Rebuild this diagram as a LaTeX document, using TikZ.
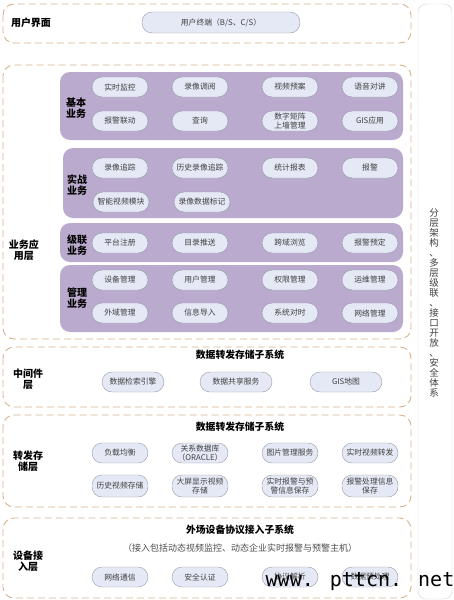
\documentclass[tikz,border=0pt]{standalone}
\usepackage{fontspec}
\setmainfont{Noto Sans CJK SC}
\newfontfamily\markfont{DejaVu Sans Mono}
\definecolor{dashc}{RGB}{214,178,138}
\definecolor{grpc}{RGB}{186,170,206}
\definecolor{pillf}{RGB}{229,233,245}
\definecolor{pillb}{RGB}{150,154,170}
\begin{document}
\begin{tikzpicture}[x=1pt,y=-1pt,
  layer/.style={draw=dashc,line width=0.9pt,dash pattern=on 7pt off 4pt,rounded corners=11pt},
  group/.style={fill=grpc,rounded corners=10pt},
  pill/.style={draw=pillb,fill=pillf,rounded corners=10pt,minimum width=56pt,minimum height=20pt,
    inner sep=1pt,align=center,text=black!75,font=\fontsize{7.8}{8.4}\selectfont},
  lbl/.style={align=center,font=\bfseries\fontsize{10}{11}\selectfont},
  ttl/.style={font=\bfseries\fontsize{9.8}{10.5}\selectfont}]
\useasboundingbox (0,0) rectangle (453,600);

% right side column
\draw[gray!35,rounded corners=8pt] (418,4) rectangle (452,599);
\node[align=center,text=black!75,font=\fontsize{9.5}{10}\selectfont] (side) at (434,303)
  {分\\层\\架\\构\\、\\多\\层\\级\\联\\、\\接\\口\\开\\放\\、\\安\\全\\体\\系};

% user layer
\draw[layer] (3,4) rectangle (411,43);
\node[lbl] (ui) at (31,23) {用户界面};
\node[pill,minimum width=158pt,minimum height=21pt] (term) at (221,22.5) {用户终端（B/S、C/S）};

% business layer
\draw[layer] (3,65) rectangle (411,339);
\node[lbl] (biz) at (24,250) {业务应\\用层};
\fill[group] (60,72) rectangle (403,140);
\fill[group] (63,148) rectangle (403,218);
\fill[group] (60,223) rectangle (403,262);
\fill[group] (60,265) rectangle (403,332);
\node[lbl] (jb) at (76,108) {基本\\业务};
\node[lbl] (sz) at (77,185) {实战\\业务};
\node[lbl] (jl) at (77,245) {级联\\业务};
\node[lbl] (gl) at (77,298) {管理\\业务};
\foreach \t/\x [count=\i] in {实时监控/120,录像调阅/200,视频预案/290,语音对讲/370}
  \node[pill] (jba\i) at (\x,87) {\t};
\foreach \t/\x [count=\i] in {报警联动/120,查询/200,{数字矩阵\\上墙管理}/290,GIS应用/370}
  \node[pill] (jbb\i) at (\x,121) {\t};
\foreach \t/\x [count=\i] in {录像追踪/120,历史录像追踪/200,统计报表/290,报警/370}
  \node[pill] (sza\i) at (\x,168) {\t};
\foreach \t/\x [count=\i] in {智能视频模块/121,录像数据标记/202}
  \node[pill] (szb\i) at (\x,202) {\t};
\foreach \t/\x [count=\i] in {平台注册/120,目录推送/200,跨域浏览/290,报警预定/370}
  \node[pill] (jl\i) at (\x,243) {\t};
\foreach \t/\x [count=\i] in {设备管理/120,用户管理/200,权限管理/290,运维管理/370}
  \node[pill] (gla\i) at (\x,280) {\t};
\foreach \t/\x [count=\i] in {外域管理/120,信息导入/200,系统对时/290,网络管理/370}
  \node[pill] (glb\i) at (\x,313) {\t};

% middleware layer
\draw[layer] (3,347) rectangle (411,407);
\node[ttl] (midt) at (240,355) {数据转发存储子系统};
\node[lbl] (mid) at (28,379) {中间件\\层};
\node[pill,minimum width=62pt] (zj1) at (133,382) {数据检索引擎};
\node[pill,minimum width=72pt] (zj2) at (236,382) {数据共享服务};
\node[pill,minimum width=72pt] (zj3) at (346,382) {GIS地图};

% storage layer
\draw[layer] (3,415) rectangle (411,507);
\node[ttl] (stot) at (240,427) {数据转发存储子系统};
\node[lbl] (sto) at (28,461) {转发存\\储层};
\foreach \t/\x [count=\i] in {负载均衡/120,{关系数据库\\（ORACLE）}/200,图片管理服务/290,实时视频转发/370}
  \node[pill] (cca\i) at (\x,453) {\t};
\foreach \t/\x [count=\i] in {历史视频存储/120,{大屏显示视频\\存储}/200,{实时报警与预\\警信息保存}/290,{报警处理信息\\保存}/370}
  \node[pill,minimum height=22pt] (ccb\i) at (\x,486) {\t};

% device layer
\draw[layer] (3,518) rectangle (411,598);
\node[ttl] (devt) at (240,530) {外场设备协议接入子系统};
\node[text=black!70,font=\fontsize{9}{10}\selectfont] (devs) at (240,548)
  {（接入包括动态视频监控、动态企业实时报警与预警主机）};
\node[lbl] (dev) at (28,561) {设备接\\入层};
\foreach \t/\x [count=\i] in {网络通信/120,安全认证/200,协议解析/290,数据预处理/370}
  \node[pill] (sb\i) at (\x,577) {\t};

\node[font=\markfont\fontsize{20}{20}\selectfont] (wm) at (360,582) {www. pttcn. net};
\end{tikzpicture}
\end{document}
